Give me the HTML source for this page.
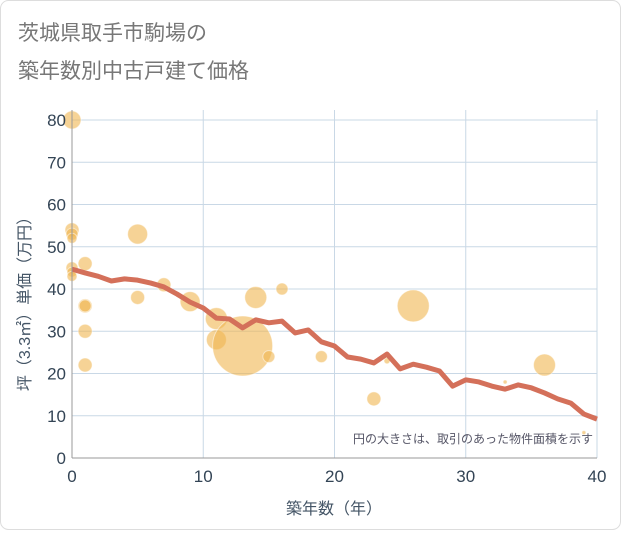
<!DOCTYPE html>
<html><head><meta charset="utf-8"><style>
body{margin:0;background:#fff;font-family:"Liberation Sans","Noto Sans CJK JP",sans-serif}
</style></head><body>
<svg id="c" width="621" height="530" xmlns="http://www.w3.org/2000/svg">
<rect x="0.5" y="0.5" width="620" height="529" rx="8" fill="#fff" stroke="#ddd"/>
<text x="18" y="40" font-size="21" fill="#777" font-family="Liberation Sans, Noto Sans CJK JP, sans-serif">茨城県取手市駒場の</text>
<text x="18" y="78" font-size="21" fill="#777" font-family="Liberation Sans, Noto Sans CJK JP, sans-serif">築年数別中古戸建て価格</text>
<g id="grid"></g><g id="bub"></g><g id="ln"></g><g id="ax"></g>
<text x="593" y="443" font-size="12" fill="#556" text-anchor="end" font-family="Liberation Sans, Noto Sans CJK JP, sans-serif">円の大きさは、取引のあった物件面積を示す</text>
<text x="334" y="514" font-size="16" fill="#456" text-anchor="middle" font-family="Liberation Sans, Noto Sans CJK JP, sans-serif">築年数（年）</text>
<text transform="translate(30,300) rotate(-90)" font-size="16" fill="#456" text-anchor="middle" font-family="Liberation Sans, Noto Sans CJK JP, sans-serif">坪（3.3㎡）単価（万円）</text>
</svg>
<script>
const xTicks=[0,10,20,30,40];
const yTicks=[0,10,20,30,40,50,60,70,80];
const lineYears=[0,1,2,3,4,5,6,7,8,9,10,11,12,13,14,15,16,17,18,19,20,21,22,23,24,25,26,27,28,29,30,31,32,33,34,35,36,37,38,39,40];
const linePrices=[44.7,43.8,43,41.9,42.4,42.1,41.4,40.5,38.8,36.9,35.5,33.1,32.9,30.8,32.7,32,32.4,29.6,30.3,27.5,26.5,23.9,23.4,22.5,24.6,21.1,22.2,21.5,20.6,17,18.5,18,17,16.3,17.3,16.6,15.4,14,13,10.4,9.2];
const bubbleYears=[0,0,0,0,0,0,0,1,1,1,1,1,5,5,7,9,11,11,13,14,15,16,19,23,24,26,33,36,39];
const bubblePrices=[80,54,53,52,45,44,43,46,36,36,30,22,53,38,41,37,33,28,26.5,38,24,40,24,14,23,36,18,22,6];
const bubbleSizes=[9,7,6,5,6,5,5,7,7,6,7,7,10,7,7,10,11,10,30,11,6,6,6,7,3,16,2,11,2];
const X=v=>72+v*13.125, Y=v=>458-v*4.225;
const NS="http://www.w3.org/2000/svg";
function mk(p,t,a){const e=document.createElementNS(NS,t);for(const k in a)e.setAttribute(k,a[k]);document.getElementById(p).appendChild(e);return e;}
yTicks.forEach(v=>{const l=mk('grid','line',{x1:72,x2:597,y1:Y(v),y2:Y(v),stroke:'#c9d8e6','stroke-width':1});


const t=mk('ax','text',{x:66,y:Y(v)+6,'font-size':17,fill:'#345','text-anchor':'end'});t.textContent=v;

});
xTicks.forEach(v=>{const l=mk('grid','line',{x1:X(v),x2:X(v),y1:110,y2:458,stroke:'#c9d8e6','stroke-width':1});


const t=mk('ax','text',{x:X(v),y:482,'font-size':17,fill:'#345','text-anchor':'middle'});t.textContent=v;

});
const a1=mk('ax','line',{x1:72,x2:72,y1:110,y2:458,stroke:'#999'});


const a2=mk('ax','line',{x1:72,x2:597,y1:458,y2:458,stroke:'#999'});


bubbleYears.forEach((v,i)=>{const c=mk('bub','circle',{cx:X(v),cy:Y(bubblePrices[i]),r:bubbleSizes[i],fill:'#f0b550','fill-opacity':0.6,stroke:'#fff','stroke-opacity':0.5});

});
const p=mk('ln','polyline',{points:lineYears.map((v,i)=>X(v)+','+Y(linePrices[i])).join(' '),fill:'none',stroke:'#d4705a','stroke-width':5,'stroke-linejoin':'round'});


</script>
</body></html>
